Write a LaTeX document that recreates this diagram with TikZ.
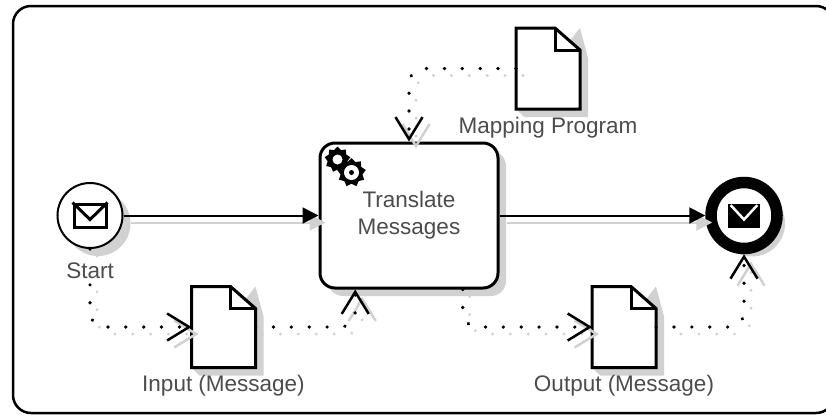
\documentclass[tikz,border=0pt]{standalone}
\usepackage{fontspec}
\setmainfont{Liberation Sans}
\usepackage{tikz}
\usetikzlibrary{positioning,calc,shadows}
\usetikzlibrary{shapes.geometric, arrows.meta}
\definecolor{labelgray}{gray}{0.3}
\definecolor{shadegray}{gray}{0.82}
\tikzstyle{boxshadow} = [drop shadow={shadow xshift=.16cm, shadow yshift=-.16cm, opacity=1, fill=shadegray}]
\tikzstyle{label} = [font=\fontsize{12.8}{15.36}\selectfont, text=labelgray, inner sep=1pt]
\tikzstyle{pool} = [rectangle, rounded corners=.36cm, minimum width=16.42cm, minimum height=8.14cm, draw=black, line width=.05cm]
\tikzstyle{activity} = [rectangle, rounded corners=.3cm, minimum width=3.56cm, minimum height=2.9cm, text centered, text width=3cm, draw=black, fill=white, line width=.06cm, boxshadow, label]
\tikzstyle{startevent} = [circle, minimum size=1.3cm, inner sep=0, draw=black, fill=white, line width=.04cm, boxshadow]
\tikzstyle{endevent} = [circle, minimum size=1.32cm, inner sep=0, draw=black, fill=white, line width=.23cm, boxshadow]
\tikzstyle{startmail} = [rectangle, minimum width=.64cm, minimum height=.46cm, inner sep=0, draw=black, line width=.06cm]
\tikzstyle{endmail} = [rectangle, minimum width=.64cm, minimum height=.48cm, inner sep=0, fill=black]
\tikzstyle{docnode} = [rectangle, minimum width=1.28cm, minimum height=1.62cm, inner sep=0, outer sep=0]
\tikzstyle{biggear} = [star, star points=9, star point ratio=1.3, minimum size=.52cm, inner sep=0, fill=black]
\tikzstyle{smallgear} = [star, star points=9, star point ratio=1.3, minimum size=.58cm, inner sep=0, fill=black]
\tikzstyle{gearhole} = [circle, inner sep=0, fill=white]
\tikzstyle{seqarrow} = [line width=.04cm, -{Triangle[length=.32cm,width=.32cm]}, preaction={draw=shadegray, line width=.04cm, transform canvas={shift={(.14cm,-.14cm)}}}]
\tikzstyle{dotarrow} = [line width=.07cm, line cap=round, dash pattern=on .1pt off .354cm, rounded corners=.3cm, -{Straight Barb[length=.44cm,width=.54cm,line width=.05cm]}, preaction={draw=shadegray, line width=.06cm, line cap=round, dash pattern=on .1pt off .354cm, transform canvas={shift={(.14cm,-.14cm)}}}]
\newcommand{\docpage}[1]{
	\fill [shadegray] ($(#1.north east)+(.16,-.6)$) -- ($(#1.south east)+(.16,-.16)$) -- ($(#1.south west)+(.16,-.16)$) -- (#1.south west) -- (#1.north east) -- cycle;
	\draw [line width=.06cm, fill=white, line join=miter] (#1.north west) -- ($(#1.north east)+(-.5,0)$) -- ($(#1.north east)+(0,-.44)$) -- (#1.south east) -- (#1.south west) -- cycle;
	\draw [line width=.06cm] ($(#1.north east)+(-.5,0)$) -- ($(#1.north east)+(-.5,-.44)$) -- ($(#1.north east)+(0,-.44)$);
}

\begin{document}
\begin{tikzpicture}[node distance=6.38cm]

	\useasboundingbox (0,0) rectangle (16.52,8.3);

	\node (mainPool) [pool] at (8.47,4.11) {};

	\node (translate) [activity] at (8.18,3.99) {Translate \\ Messages};

	\node (startEvent) [startevent, left of=translate] {};

	\node (endEvent) [endevent, right of=translate, xshift=.32cm] {};

	\node (startMail) [startmail, at=(startEvent.center)] {};

	\node (endMail) [endmail, at=(endEvent.center)] {};

	\node (bigGear) [biggear] at ([xshift=.38cm, yshift=-.36cm]translate.north west) {};
	\node (bigHole) [gearhole, minimum size=.2cm, at=(bigGear.center)] {};
	\node (smallGear) [smallgear] at ([xshift=.66cm, yshift=-.62cm]translate.north west) {};
	\node (smallHole) [gearhole, minimum size=.3cm, at=(smallGear.center)] {};
	\node (smallPin) [circle, minimum size=.1cm, inner sep=0, fill=black, at=(smallGear.center)] {};

	\node (mappingDoc) [docnode, node distance=2.94cm, above of=translate, xshift=2.78cm] {};

	\node (inputDoc) [docnode, node distance=2.23cm, below of=translate, xshift=-3.71cm] {};

	\node (outputDoc) [docnode, node distance=2.23cm, below of=translate, xshift=4.3cm] {};

	\docpage{mappingDoc}
	\docpage{inputDoc}
	\docpage{outputDoc}

	\node (mappingLabel) [label, node distance=1.19cm, below of=mappingDoc] {Mapping Program};

	\node (inputLabel) [label, node distance=1.18cm, below of=inputDoc] {Input (Message)};

	\node (outputLabel) [label, node distance=1.18cm, below of=outputDoc] {Output (Message)};

	\draw [line width=.06cm] (startMail.north west) -- ([yshift=-.08cm]startMail.center) -- (startMail.north east);
	\draw [white, line width=.05cm] ([xshift=.06cm, yshift=-.04cm]endMail.north west) -- ([yshift=-.08cm]endMail.center) -- ([xshift=-.06cm, yshift=-.04cm]endMail.north east);

	\draw [seqarrow] (startEvent) -- (translate);
	\draw [seqarrow] (translate) -- (endEvent);

	\draw [dotarrow] (mappingDoc.west) -| (translate.north);
	\draw [dotarrow] (startEvent.south) |- (inputDoc.west);
	\draw [dotarrow] (inputDoc.east) -| (translate.234);
	\draw [dotarrow] (translate.306) |- (outputDoc.west);
	\draw [dotarrow] (outputDoc.east) -| (endEvent.south);

	\node (startLabel) [label, fill=white, node distance=1.1cm, below of=startEvent] {Start};

\end{tikzpicture}
\end{document}
